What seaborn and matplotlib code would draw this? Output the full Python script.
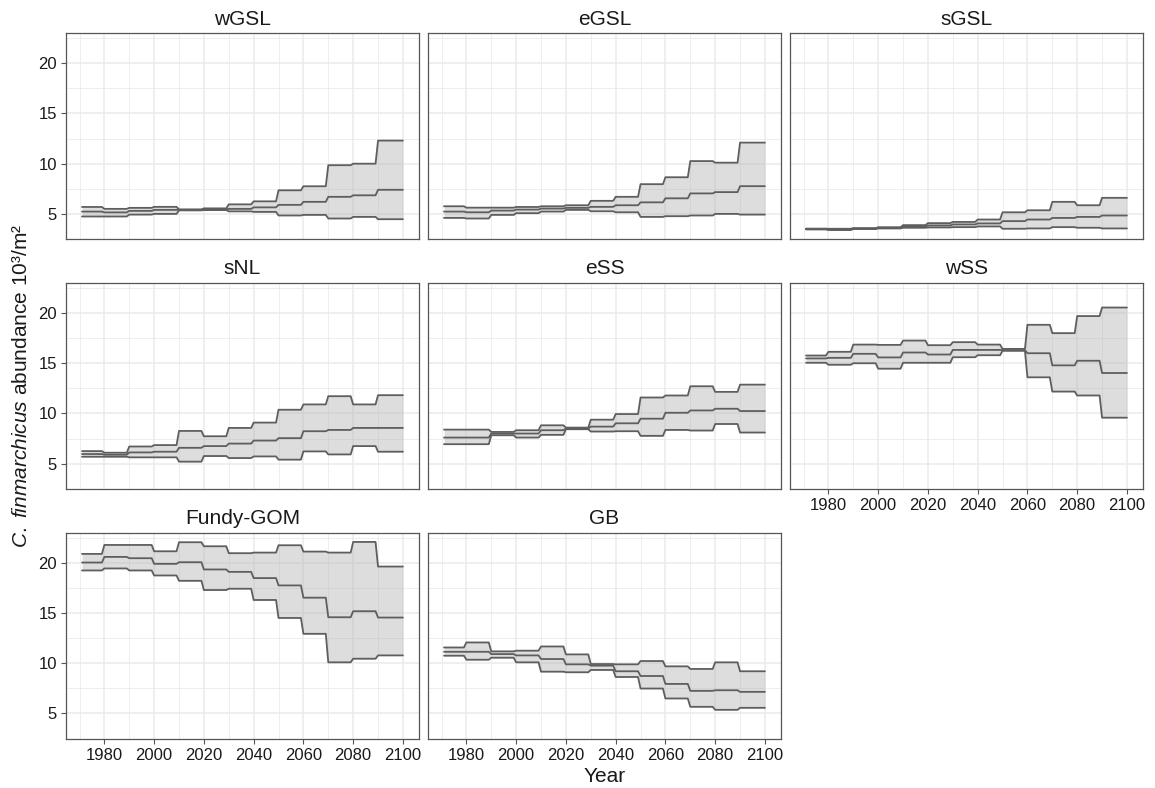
import numpy as np
import pandas as pd
import matplotlib
matplotlib.use("Agg")
import matplotlib.pyplot as plt
import seaborn as sns

# ---- data: decadal projections (1970s ... 2090s), thousands of individuals per m^2 ----
regions = ["wGSL", "eGSL", "sGSL", "sNL", "eSS", "wSS", "Fundy-GOM", "GB"]
decades = [1970, 1980, 1990, 2000, 2010, 2020, 2030, 2040, 2050, 2060, 2070, 2080, 2090]
years = list(range(1971, 2101))

wgsl_upper = [5.69, 5.50, 5.60, 5.70, 5.45, 5.55, 5.95, 6.25, 7.35, 7.75, 9.85, 10.00, 12.30]
wgsl_median = [5.23, 5.15, 5.30, 5.40, 5.40, 5.45, 5.50, 5.65, 5.90, 6.20, 6.70, 6.85, 7.40]
wgsl_lower = [4.74, 4.74, 4.93, 5.00, 5.35, 5.38, 5.25, 5.20, 4.84, 4.90, 4.54, 4.70, 4.47]

egsl_upper = [5.76, 5.62, 5.62, 5.69, 5.76, 5.86, 6.30, 6.70, 7.96, 8.65, 10.26, 10.10, 12.10]
egsl_median = [5.23, 5.16, 5.33, 5.43, 5.53, 5.60, 5.70, 5.86, 6.15, 6.55, 7.04, 7.17, 7.76]
egsl_lower = [4.60, 4.54, 4.90, 5.07, 5.23, 5.40, 5.26, 5.16, 4.70, 4.77, 4.84, 5.00, 4.93]

sgsl_upper = [3.52, 3.52, 3.58, 3.65, 3.88, 4.08, 4.20, 4.44, 5.16, 5.36, 6.20, 5.86, 6.60]
sgsl_median = [3.52, 3.49, 3.55, 3.65, 3.75, 3.85, 3.95, 4.05, 4.28, 4.44, 4.60, 4.70, 4.84]
sgsl_lower = [3.45, 3.39, 3.49, 3.55, 3.62, 3.65, 3.68, 3.75, 3.52, 3.55, 3.68, 3.62, 3.55]

snl_upper = [6.25, 6.09, 6.71, 6.85, 8.26, 7.73, 8.56, 9.09, 10.37, 10.90, 11.72, 10.90, 11.82]
snl_median = [5.96, 5.89, 6.12, 6.19, 6.58, 6.75, 7.00, 7.30, 7.54, 8.23, 8.36, 8.56, 8.56]
snl_lower = [5.69, 5.69, 5.63, 5.63, 5.20, 5.76, 5.56, 5.72, 5.40, 6.22, 5.92, 6.75, 6.19]

ess_upper = [8.39, 8.39, 8.16, 8.33, 8.82, 8.59, 9.38, 9.94, 11.59, 11.79, 12.71, 12.15, 12.87]
ess_median = [7.60, 7.60, 8.00, 8.00, 8.33, 8.49, 8.69, 9.02, 9.48, 10.07, 10.30, 10.47, 10.24]
ess_lower = [6.94, 6.94, 7.83, 7.60, 7.87, 8.43, 8.20, 8.23, 7.77, 8.36, 8.30, 8.95, 8.10]

wss_upper = [15.77, 16.14, 16.86, 16.83, 17.26, 16.80, 17.10, 16.86, 16.43, 18.83, 18.00, 19.70, 20.55]
wss_median = [15.48, 15.54, 15.94, 15.58, 16.07, 15.87, 16.33, 16.33, 16.30, 16.00, 14.79, 15.25, 14.03]
wss_lower = [15.05, 14.85, 15.00, 14.46, 15.05, 15.05, 15.60, 15.80, 16.24, 13.60, 12.18, 11.79, 9.58]

fundy_upper = [20.89, 21.78, 21.78, 21.15, 22.05, 21.65, 20.96, 21.02, 21.75, 21.12, 21.02, 22.08, 19.63]
fundy_median = [20.03, 20.59, 20.46, 19.90, 20.06, 19.34, 19.10, 18.48, 17.75, 16.53, 14.58, 15.18, 14.55]
fundy_lower = [19.24, 19.44, 19.24, 18.74, 18.21, 17.29, 17.42, 16.30, 14.51, 12.93, 10.09, 10.45, 10.78]

gb_upper = [11.57, 12.07, 11.18, 11.25, 11.67, 10.88, 9.92, 9.89, 10.22, 9.69, 9.43, 10.09, 9.20]
gb_median = [11.14, 11.14, 10.91, 10.78, 10.42, 9.89, 9.76, 9.20, 8.73, 7.94, 7.25, 7.31, 7.15]
gb_lower = [10.75, 10.35, 10.55, 10.09, 9.16, 9.10, 9.33, 8.63, 7.48, 6.49, 5.66, 5.36, 5.56]

series = {
    "wGSL": (wgsl_lower, wgsl_median, wgsl_upper),
    "eGSL": (egsl_lower, egsl_median, egsl_upper),
    "sGSL": (sgsl_lower, sgsl_median, sgsl_upper),
    "sNL": (snl_lower, snl_median, snl_upper),
    "eSS": (ess_lower, ess_median, ess_upper),
    "wSS": (wss_lower, wss_median, wss_upper),
    "Fundy-GOM": (fundy_lower, fundy_median, fundy_upper),
    "GB": (gb_lower, gb_median, gb_upper),
}

# annual table: each year carries the value of its decade
records = []
for reg in regions:
    lo, med, up = series[reg]
    for yr in years:
        i = min((yr - decades[0]) // 10, len(decades) - 1)
        records.append((reg, yr, lo[i], med[i], up[i]))
df = pd.DataFrame(records, columns=["region", "year", "lower", "median", "upper"])

# ---- style ----
sns.set_style("white")
plt.rcParams["font.family"] = ["Liberation Sans", "DejaVu Sans"]
plt.rcParams["mathtext.fontset"] = "custom"
plt.rcParams["mathtext.rm"] = "Liberation Sans"
plt.rcParams["mathtext.it"] = "Liberation Sans:italic"

LINE = "#5e5e5e"
FILL = "#b4b4b4"
GRID = "#ebebeb"
BORDER = "#555555"
TEXT = "#1a1a1a"


def draw_band(data, **kws):
    ax = plt.gca()
    ax.fill_between(data["year"], data["lower"], data["upper"],
                    color=FILL, alpha=0.45, lw=0, zorder=2)
    for col in ["lower", "median", "upper"]:
        sns.lineplot(data=data, x="year", y=col, ax=ax, color=LINE,
                     lw=1.3, zorder=3)


g = sns.FacetGrid(df, col="region", col_wrap=3, col_order=regions,
                  sharex=True, sharey=True, despine=False, height=2.6, aspect=1.5)
g.map_dataframe(draw_band)
g.set_titles("{col_name}", size=15, pad=6, color=TEXT)

# scale limits with 5% expansion of the data range
ymin = min(min(v) for s in series.values() for v in s)
ymax = max(max(v) for s in series.values() for v in s)
yr_span = years[-1] - years[0]
y_span = ymax - ymin

bottom_axes = set(g._bottom_axes)
left_axes = set(g._left_axes)

for ax in g.axes.flat:
    ax.set_xlabel("")
    ax.set_ylabel("")
    ax.set_xlim(years[0] - 0.05 * yr_span, years[-1] + 0.05 * yr_span)
    ax.set_ylim(ymin - 0.05 * y_span, ymax + 0.05 * y_span)
    ax.set_xticks(range(1980, 2101, 20))
    ax.set_xticks(range(1970, 2101, 20), minor=True)
    ax.set_yticks([5, 10, 15, 20])
    ax.set_yticks([2.5, 7.5, 12.5, 17.5, 22.5], minor=True)
    ax.set_axisbelow(True)
    ax.grid(which="major", color=GRID, lw=1.1, zorder=0)
    ax.grid(which="minor", color=GRID, lw=0.6, zorder=0)
    ax.set_facecolor("white")
    for sp in ax.spines.values():
        sp.set_color(BORDER)
        sp.set_linewidth(0.9)
    ax.tick_params(which="major", length=3.5, width=0.8, color=BORDER,
                   labelsize=12, labelcolor=TEXT, pad=3,
                   bottom=ax in bottom_axes, labelbottom=ax in bottom_axes,
                   left=ax in left_axes, labelleft=ax in left_axes)
    ax.tick_params(which="minor", length=0)

fig = g.figure
fig.set_size_inches(11.55, 7.88)
fig.subplots_adjust(left=0.0571, right=0.9896, bottom=0.0622, top=0.9581,
                    wspace=0.0255, hspace=0.21)

fig.text(22 / 1155, 1 - 386 / 788,
         r"$\mathit{C.\ finmarchicus}$ abundance 10³/m²",
         rotation=90, ha="center", va="center", fontsize=15, color=TEXT)
fig.text(604.5 / 1155, 1 - 776 / 788, "Year",
         ha="center", va="center", fontsize=15, color=TEXT)

fig.savefig("out.png", dpi=100)
